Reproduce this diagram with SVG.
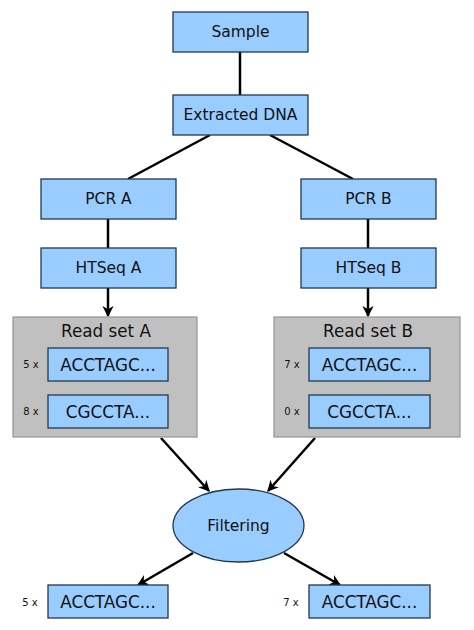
<svg xmlns="http://www.w3.org/2000/svg" width="474" height="630" viewBox="0 0 474 630">
<style>
.box{fill:#99ccff;stroke:#1f3a4d;stroke-width:1.3}
.set{fill:#c0c0c0;stroke:#9a9a9a;stroke-width:1.3}
.t{font-family:"DejaVu Sans",sans-serif;font-size:15.5px;fill:#111;text-anchor:middle;dominant-baseline:central}
.s{font-size:16.8px}
.n{font-family:"DejaVu Sans",sans-serif;font-size:10px;fill:#111;text-anchor:middle;dominant-baseline:central}
.c{stroke:#000;stroke-width:2.5;fill:none}
</style>
<defs>
<marker id="ah" viewBox="0 0 10 10" refX="9" refY="5" markerWidth="4.5" markerHeight="4.5" orient="auto" markerUnits="strokeWidth">
<path d="M0,0 L10,5 L0,10 L3,5 z" fill="#000"/>
</marker>
</defs>
<g id="connectors">
<line class="c" x1="240" y1="52" x2="240" y2="95"/>
<line class="c" x1="210" y1="135" x2="128" y2="179"/>
<line class="c" x1="270" y1="135" x2="353" y2="179"/>
<line class="c" x1="108" y1="219" x2="108" y2="248"/>
<line class="c" x1="368" y1="219" x2="368" y2="248"/>
<line class="c" x1="108" y1="288" x2="108" y2="316" marker-end="url(#ah)"/>
<line class="c" x1="368" y1="288" x2="368" y2="316" marker-end="url(#ah)"/>
<line class="c" x1="161" y1="438" x2="209" y2="491" marker-end="url(#ah)"/>
<line class="c" x1="315" y1="438" x2="268" y2="491" marker-end="url(#ah)"/>
<line class="c" x1="193" y1="553" x2="138" y2="585" marker-end="url(#ah)"/>
<line class="c" x1="284" y1="553" x2="340" y2="585" marker-end="url(#ah)"/>
</g>
<g id="sample"><rect class="box" x="173" y="12" width="135" height="40"/><text class="t" x="240.5" y="32">Sample</text></g>
<g id="extracted"><rect class="box" x="173" y="95" width="135" height="40"/><text class="t" x="240.5" y="115">Extracted DNA</text></g>
<g id="pcrA"><rect class="box" x="41" y="179" width="135" height="40"/><text class="t" x="108.5" y="199">PCR A</text></g>
<g id="pcrB"><rect class="box" x="301" y="179" width="135" height="40"/><text class="t" x="368.5" y="199">PCR B</text></g>
<g id="htseqA"><rect class="box" x="41" y="248" width="135" height="40"/><text class="t" x="108.5" y="268">HTSeq A</text></g>
<g id="htseqB"><rect class="box" x="301" y="248" width="135" height="40"/><text class="t" x="368.5" y="268">HTSeq B</text></g>
<g id="readsetA">
<rect class="set" x="13" y="317" width="184" height="120"/>
<text class="t s" x="106" y="331">Read set A</text>
<text class="n" x="31" y="364">5 x</text>
<rect class="box" x="48" y="348" width="120" height="33"/><text class="t s" x="108" y="364.5">ACCTAGC...</text>
<text class="n" x="31" y="411">8 x</text>
<rect class="box" x="48" y="395" width="120" height="33"/><text class="t s" x="108" y="411.5">CGCCTA...</text>
</g>
<g id="readsetB">
<rect class="set" x="274" y="317" width="186" height="120"/>
<text class="t s" x="368" y="331">Read set B</text>
<text class="n" x="292" y="364">7 x</text>
<rect class="box" x="309" y="348" width="121" height="33"/><text class="t s" x="369.5" y="364.5">ACCTAGC...</text>
<text class="n" x="292" y="411">0 x</text>
<rect class="box" x="309" y="395" width="121" height="33"/><text class="t s" x="369.5" y="411.5">CGCCTA...</text>
</g>
<g id="filtering"><ellipse class="box" cx="238.5" cy="525.5" rx="65.5" ry="36.5"/><text class="t" x="238.5" y="526">Filtering</text></g>
<g id="outA"><text class="n" x="30" y="602">5 x</text><rect class="box" x="48" y="585" width="120" height="33"/><text class="t s" x="108" y="601.5">ACCTAGC...</text></g>
<g id="outB"><text class="n" x="291" y="602">7 x</text><rect class="box" x="309" y="585" width="121" height="33"/><text class="t s" x="369.5" y="601.5">ACCTAGC...</text></g>
</svg>
